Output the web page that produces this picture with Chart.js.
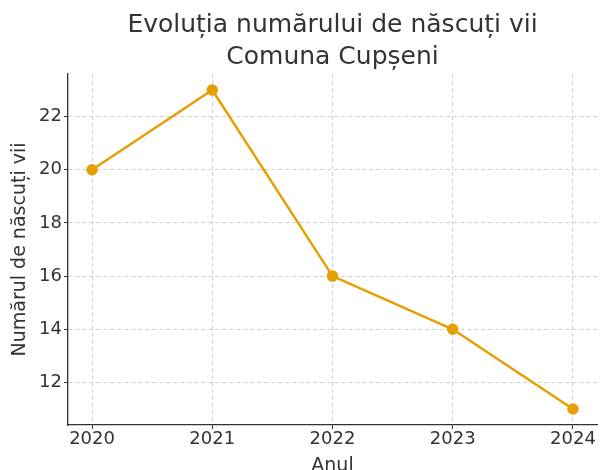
<!DOCTYPE html>
<html>
<head>
<meta charset="utf-8">
<script src="https://cdn.jsdelivr.net/npm/chart.js@4"></script>
<style>
  html, body { margin: 0; padding: 0; background: #fff; }
  #wrap { width: 600px; height: 470px; }
</style>
</head>
<body>
<div id="wrap"><canvas id="birthsChart" width="600" height="470"></canvas></div>
<script>
// Date: anii si numarul de nascuti vii
const years = [2020, 2021, 2022, 2023, 2024];
const births = [20, 23, 16, 14, 11];
const yTicks = [12, 14, 16, 18, 20, 22];

const textColor = '#333333';
const lineColor = '#E69F00';
const gridColor = '#cfcfcf';

Chart.defaults.font.family = '"DejaVu Sans", sans-serif';
Chart.defaults.color = textColor;

const ctx = document.getElementById('birthsChart').getContext('2d');

new Chart(ctx, {
    type: 'line',
    data: {
        datasets: [{
            label: 'Născuți vii',
            data: years.map((y, i) => ({ x: y, y: births[i] })),
            borderColor: lineColor,
            backgroundColor: lineColor,
            borderWidth: 2.5,
            pointRadius: 4.5,
            pointHoverRadius: 4.5,
            tension: 0,
            clip: false,
        }],
    },
    options: {
        responsive: false,
        animation: false,
        layout: { autoPadding: false, padding: { left: 0, right: 3, top: 0, bottom: 0 } },
        plugins: {
            legend: { display: false },
            tooltip: { enabled: false },
            title: {
                display: true,
                fullSize: false,
                text: ['Evoluția numărului de născuți vii', 'Comuna Cupșeni'],
                font: { size: 25, weight: 'normal', lineHeight: 1.28 },
                color: textColor,
                padding: { top: 9, bottom: 1 },
            },
        },
        scales: {
            x: {
                type: 'linear',
                min: 2019.8,
                max: 2024.2,
                afterBuildTicks: axis => { axis.ticks = years.map(v => ({ value: v })); },
                afterFit: axis => {
                    axis.height = 45;
                    axis.paddingLeft = 0;
                    axis.paddingRight = 0;
                },
                ticks: {
                    callback: v => String(v),
                    font: { size: 18 },
                    color: textColor,
                    padding: 0,
                    maxRotation: 0,
                },
                grid: {
                    color: gridColor,
                    borderDash: [4, 3],
                    tickColor: textColor,
                    tickLength: 4,
                    tickBorderDash: [],
                },
                border: { display: true, color: textColor, width: 1.3, dash: [4, 3] },
                title: {
                    display: true,
                    text: 'Anul',
                    font: { size: 19, lineHeight: 0.37 },
                    color: textColor,
                    padding: { top: 0, bottom: 0 },
                },
            },
            y: {
                type: 'linear',
                min: 10.4,
                max: 23.6,
                afterBuildTicks: axis => { axis.ticks = yTicks.map(v => ({ value: v })); },
                afterFit: axis => { axis.width = 68; },
                ticks: {
                    font: { size: 18 },
                    color: textColor,
                    padding: 2,
                },
                grid: {
                    color: gridColor,
                    borderDash: [4, 3],
                    tickColor: textColor,
                    tickLength: 4,
                    tickBorderDash: [],
                },
                border: { display: true, color: textColor, width: 1.3, dash: [4, 3] },
                title: {
                    display: true,
                    text: 'Numărul de născuți vii',
                    font: { size: 19 },
                    color: textColor,
                    padding: { top: 9, bottom: 0 },
                },
            },
        },
    },
});
</script>
</body>
</html>
